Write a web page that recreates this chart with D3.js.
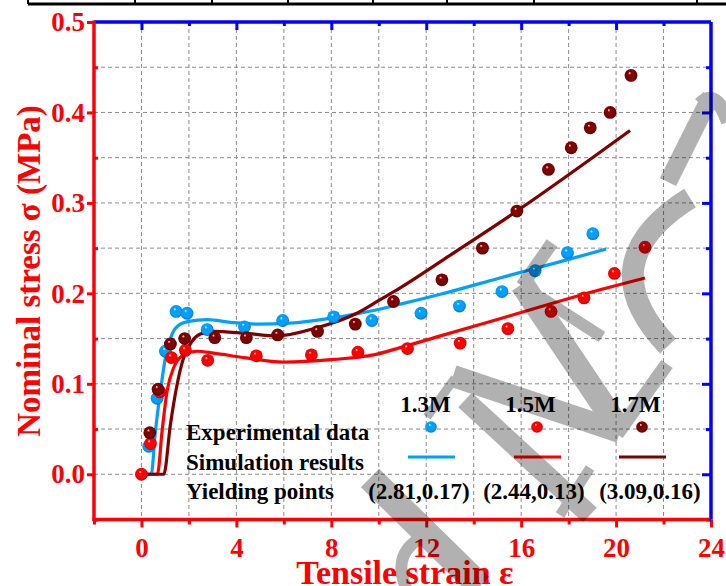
<!DOCTYPE html>
<html>
<head>
<meta charset="utf-8">
<script src="https://cdn.jsdelivr.net/npm/d3@7"></script>
<style>
  body { margin: 0; background: #fff; }
  svg { display: block; font-family: "Liberation Serif", "Times New Roman", serif; }
</style>
</head>
<body>
<svg id="chart" width="726" height="586"></svg>
<script>
// experimental data, [strain, stress]
const exp13 = [[0.31,0.031],[0.66,0.084],[1.01,0.136],[1.46,0.180],[1.92,0.178],[2.77,0.160],
  [4.34,0.163],[5.95,0.170],[8.10,0.174],[9.71,0.170],[11.78,0.178],[13.40,0.186],[15.19,0.202],
  [16.59,0.225],[17.95,0.245],[19.02,0.266]];
const exp15 = [[0,0],[0.38,0.034],[0.77,0.091],[1.26,0.129],[1.85,0.137],[2.79,0.126],[4.84,0.131],
  [7.16,0.132],[9.12,0.135],[11.21,0.139],[13.43,0.145],[15.44,0.161],[17.26,0.180],[18.65,0.195],
  [19.93,0.222],[21.22,0.251]];
const exp17 = [[0.35,0.046],[0.70,0.094],[1.22,0.144],[1.82,0.150],[3.09,0.151],[4.42,0.151],
  [5.74,0.154],[7.42,0.158],[9.01,0.166],[10.62,0.191],[12.66,0.215],[14.37,0.250],[15.82,0.291],
  [17.15,0.337],[18.11,0.361],[18.91,0.383],[19.75,0.400],[20.63,0.441]];

// simulation results
const sim13 = [[0,0],[0.41,0],[0.59,0.048],[0.8,0.092],[1.01,0.129],[1.29,0.155],[1.64,0.166],
  [1.99,0.169],[2.77,0.171],[3.75,0.168],[4.87,0.166],[6.27,0.167],[8.08,0.173],[9.78,0.181],
  [10.9,0.188],[12.6,0.199],[15.1,0.217],[17.5,0.234],[19.58,0.249]];
const sim15 = [[0,0],[0.67,0],[0.87,0.048],[1.08,0.092],[1.36,0.118],[1.78,0.132],[2.35,0.136],
  [3.04,0.134],[4.31,0.129],[5.99,0.124],[8.1,0.127],[9.78,0.132],[10.9,0.140],[12.6,0.153],
  [15.5,0.175],[19.32,0.204],[21.22,0.217]];
const sim17 = [[0,0],[0.94,0],[1.22,0.055],[1.5,0.099],[1.78,0.129],[2.13,0.147],[2.48,0.155],
  [3.04,0.158],[4.31,0.156],[5.71,0.153],[7.4,0.162],[9.08,0.178],[10.06,0.193],[10.9,0.206],
  [13.0,0.242],[15.82,0.291],[20.59,0.380]];

const seriesNames = ["1.3M", "1.5M", "1.7M"];
const yieldLabels = ["(2.81,0.17)", "(2.44,0.13)", "(3.09,0.16)"];
const legendRows = ["Experimental data", "Simulation results", "Yielding points"];
const xTickLabels = [0, 4, 8, 12, 16, 20, 24];
const yTickLabels = [0, 0.1, 0.2, 0.3, 0.4, 0.5];

const colors = ["#00a0ff", "#ff0000", "#800000"];
const darks = ["#0068c8", "#c00000", "#4a0000"];

const svg = d3.select("#chart");
const width = 726, height = 586;
const margin = { left: 94, right: 15, top: 22, bottom: 66.5 };

const x = d3.scaleLinear().domain([-2, 24]).range([margin.left, width - margin.right]);
const y = d3.scaleLinear().domain([-0.05, 0.5]).range([height - margin.bottom, margin.top]);

// gradients for the ball markers
const defs = svg.append("defs");
colors.forEach((c, i) => {
  const g = defs.append("radialGradient").attr("id", "ball" + i)
    .attr("cx", "50%").attr("cy", "50%").attr("r", "55%").attr("fx", "38%").attr("fy", "30%");
  g.append("stop").attr("offset", "0%").attr("stop-color", "#fff");
  g.append("stop").attr("offset", "22%").attr("stop-color", c);
  g.append("stop").attr("offset", "70%").attr("stop-color", c);
  g.append("stop").attr("offset", "100%").attr("stop-color", darks[i]);
});

// table border stub at the very top
const topG = svg.append("g");
topG.append("line").attr("x1", 28).attr("x2", 726).attr("y1", 4).attr("y2", 4)
  .attr("stroke", "#000").attr("stroke-width", 3);
[28, 135, 212, 288, 373, 447, 534, 697].forEach(px => {
  topG.append("line").attr("x1", px).attr("x2", px).attr("y1", 0).attr("y2", 4)
    .attr("stroke", "#000").attr("stroke-width", 2);
});

// grid
const gridG = svg.append("g").attr("stroke", "#8c8c8c").attr("stroke-width", 1)
  .attr("stroke-dasharray", "4,3");
d3.range(0, 23, 2).forEach(v => {
  gridG.append("line").attr("x1", x(v)).attr("x2", x(v)).attr("y1", y(0.5)).attr("y2", y(-0.05));
});
d3.range(0, 0.46, 0.05).forEach(v => {
  gridG.append("line").attr("x1", x(-2)).attr("x2", x(24)).attr("y1", y(v)).attr("y2", y(v));
});

// simulation curves
const line = d3.line().x(d => x(d[0])).y(d => y(d[1])).curve(d3.curveMonotoneX);
[sim13, sim15, sim17].forEach((s, i) => {
  svg.append("path").datum(s).attr("d", line).attr("fill", "none")
    .attr("stroke", colors[i]).attr("stroke-width", 3.2);
});

// experimental points
[exp13, exp15, exp17].forEach((s, i) => {
  svg.append("g").selectAll("circle").data(s).join("circle")
    .attr("cx", d => x(d[0])).attr("cy", d => y(d[1])).attr("r", 6.4)
    .attr("fill", `url(#ball${i})`);
});

// axes
const red = "#ff0000", blue = "#0000ff";
function styleAxis(g, color) {
  g.select(".domain").remove();
  g.selectAll(".tick line").attr("stroke", color).attr("stroke-width", 3);
  g.selectAll(".tick text").attr("fill", color).attr("font-size", 27).attr("font-weight", "bold")
    .attr("font-family", "Liberation Serif, Times New Roman, serif");
}

// bottom
svg.append("g").attr("transform", `translate(0,${y(-0.05)})`)
  .call(d3.axisBottom(x).tickValues([-2, 2, 6, 10, 14, 18, 22]).tickSize(5).tickFormat(""))
  .call(g => styleAxis(g, red));
svg.append("g").attr("transform", `translate(0,${y(-0.05)})`)
  .call(d3.axisBottom(x).tickValues(xTickLabels).tickSize(8).tickPadding(10).tickFormat(d3.format("d")))
  .call(g => styleAxis(g, red));
// left
svg.append("g").attr("transform", `translate(${x(-2)},0)`)
  .call(d3.axisRight(y).tickValues(d3.range(-0.05, 0.46, 0.1)).tickSize(4).tickFormat(""))
  .call(g => styleAxis(g, red));
svg.append("g").attr("transform", `translate(${x(-2)},0)`)
  .call(d3.axisLeft(y).tickValues(yTickLabels).tickSize(7).tickPadding(2).tickFormat(d3.format(".1f")))
  .call(g => styleAxis(g, red));
// top
svg.append("g").attr("transform", `translate(0,${y(0.5)})`)
  .call(d3.axisBottom(x).tickValues([2, 6, 10, 14, 18, 22]).tickSize(4).tickFormat(""))
  .call(g => styleAxis(g, blue));
svg.append("g").attr("transform", `translate(0,${y(0.5)})`)
  .call(d3.axisBottom(x).tickValues([0, 4, 8, 12, 16, 20]).tickSize(8).tickFormat(""))
  .call(g => styleAxis(g, blue));
// right
svg.append("g").attr("transform", `translate(${x(24)},0)`)
  .call(d3.axisLeft(y).tickValues(d3.range(-0.05, 0.46, 0.1)).tickSize(5).tickFormat(""))
  .call(g => styleAxis(g, blue));
svg.append("g").attr("transform", `translate(${x(24)},0)`)
  .call(d3.axisLeft(y).tickValues(d3.range(0, 0.46, 0.1)).tickSize(9).tickFormat(""))
  .call(g => styleAxis(g, blue));

// frame lines
svg.append("line").attr("x1", x(-2)).attr("x2", x(24)).attr("y1", y(0.5)).attr("y2", y(0.5))
  .attr("stroke", blue).attr("stroke-width", 3.5);
svg.append("line").attr("x1", x(24)).attr("x2", x(24)).attr("y1", y(0.5)).attr("y2", y(-0.05))
  .attr("stroke", blue).attr("stroke-width", 3.5);
svg.append("line").attr("x1", x(-2)).attr("x2", x(-2)).attr("y1", y(0.5) - 1.5).attr("y2", y(-0.05) + 1.5)
  .attr("stroke", red).attr("stroke-width", 3.5);
svg.append("line").attr("x1", x(-2) - 1.5).attr("x2", x(24) - 1.5).attr("y1", y(-0.05)).attr("y2", y(-0.05))
  .attr("stroke", red).attr("stroke-width", 3.5);

// axis titles
svg.append("text").attr("x", 405).attr("y", 584).attr("text-anchor", "middle")
  .attr("fill", red).attr("font-size", 34).attr("font-weight", "bold").text("Tensile strain ε");
svg.append("text").attr("transform", `translate(40,${271}) rotate(-90)`).attr("text-anchor", "middle")
  .attr("fill", red).attr("font-size", 33).attr("font-weight", "bold").text("Nominal stress σ (MPa)");

// legend
const legG = svg.append("g").attr("font-weight", "bold").attr("fill", "#000");
const rowY = [440, 470, 499];
legendRows.forEach((t, i) => {
  legG.append("text").attr("x", 186).attr("y", rowY[i]).attr("font-size", 23).text(t);
});
const nameX = [425.5, 530.5, 635.5];
const markX = [431, 537, 642];
const yieldX = [419, 534, 650];
seriesNames.forEach((n, i) => {
  legG.append("text").attr("x", nameX[i]).attr("y", 412).attr("text-anchor", "middle")
    .attr("font-size", 23).text(n);
  legG.append("circle").attr("cx", markX[i]).attr("cy", 427).attr("r", 5.8)
    .attr("fill", `url(#ball${i})`);
  legG.append("line").attr("x1", markX[i] - 23).attr("x2", markX[i] + 24).attr("y1", 457).attr("y2", 457)
    .attr("stroke", colors[i]).attr("stroke-width", 3.2);
  legG.append("text").attr("x", yieldX[i]).attr("y", rowY[2]).attr("text-anchor", "middle")
    .attr("font-size", 23).text(yieldLabels[i]);
});

// faint publisher watermark laid over the plot
const wm = svg.append("g").attr("opacity", 0.3).attr("fill", "none").attr("stroke", "#000")
  .attr("stroke-linecap", "butt");
const wmStrokes = [
  ["M453,376 L620,432", 22],
  ["M455,378 L427,417", 9],
  ["M465,400 L590,515", 20],
  ["M617,434 L667,364", 14],
  ["M560,515 L590,468", 10],
  ["M370,478 L480,586", 26],
  ["M428,534 Q388,552 408,592", 12],
  ["M522,286 L552,243", 13],
  ["M522,284 L620,430", 24],
  ["M540,297 L602,337", 12],
  ["M690,198 Q588,262 668,346", 22],
  ["M668,182 L711,96", 18],
  ["M700,104 Q716,88 728,122", 14]
];
wmStrokes.forEach(([d, w]) => wm.append("path").attr("d", d).attr("stroke-width", w));
</script>
</body>
</html>
